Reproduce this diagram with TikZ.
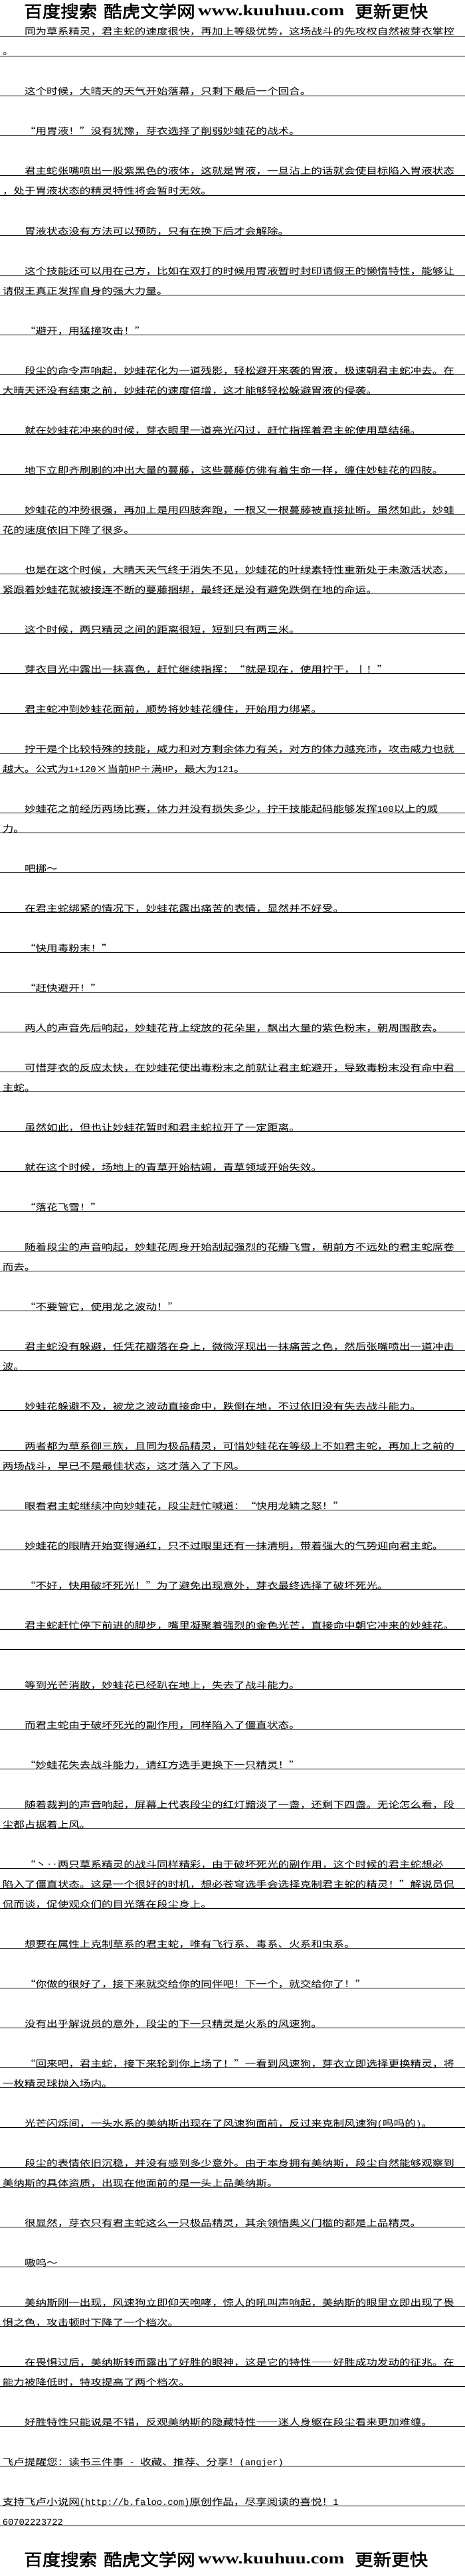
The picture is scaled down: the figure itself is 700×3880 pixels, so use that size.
\documentclass[tikz,border=0pt]{standalone}
\usepackage{fontspec}
\usepackage{tikz}
\newfontfamily\bodyfont[FakeStretch=1.22,RawFeature={+fwid}]{Noto Sans CJK SC}
\newfontfamily\ascfont{Liberation Mono}
\newfontfamily\headfont[FakeStretch=1.1,FakeBold=2]{Noto Sans CJK SC}
\newfontfamily\urlfont[FakeStretch=1.24]{Liberation Serif}
\newcommand{\asc}[1]{{\ascfont\fontsize{13.8}{16}\selectfont #1}}

\begin{document}
\begin{tikzpicture}[x=1pt,y=-1pt]
\tikzstyle{txt}=[anchor=base west, inner sep=0pt, font=\bodyfont\fontsize{13.6}{16}\selectfont]
\tikzstyle{rule}=[line width=1pt, black]
\tikzstyle{headcn}=[anchor=base west, inner sep=0pt, font=\headfont\fontsize{25}{28}\selectfont]
\tikzstyle{headurl}=[anchor=base west, inner sep=0pt, font=\urlfont\bfseries\fontsize{23}{26}\selectfont]
\path[use as bounding box, fill=white] (0,0) rectangle (700,3880);
% banner top
\node [headcn] (hdA) at (36,26.5) {百度搜索};
\node [headcn] (hdB) at (156,26.5) {酷虎文学网};
\node [headurl] (hdC) at (298,23.5) {www.kuuhuu.com};
\node [headcn] (hdD) at (534,26.5) {更新更快};
% ruled lines
\foreach \n in {0,1,3,5,7,8,10,12,13,15,17,18,20,22,24,25,27,28,30,32,34,36,37,39,40,42,44,46,48,50,52,53,55,57,59,61,62,64,66,67,69,71,72,74,76,78,80,81,83,85,87,89,90,92,93,94,96,98,100,102,103,105,107,108,110,112,114,115,117,118,120,122,124,125}
  \draw [rule] (0,{54.3+30*\n}) -- (700,{54.3+30*\n});
% text
\node [txt] (l0) at (36.8,53) {同为草系精灵，君主蛇的速度很快，再加上等级优势，这场战斗的先攻权自然被芽衣掌控};
\node [txt] (l1) at (3.6,83) {。};
\node [txt] (l3) at (36.8,143) {这个时候，大晴天的天气开始落幕，只剩下最后一个回合。};
\node [txt] (l5) at (36.8,203) {“用胃液！”没有犹豫，芽衣选择了削弱妙蛙花的战术。};
\node [txt] (l7) at (36.8,263) {君主蛇张嘴喷出一股紫黑色的液体，这就是胃液，一旦沾上的话就会使目标陷入胃液状态};
\node [txt] (l8) at (3.6,293) {，处于胃液状态的精灵特性将会暂时无效。};
\node [txt] (l10) at (36.8,353) {胃液状态没有方法可以预防，只有在换下后才会解除。};
\node [txt] (l12) at (36.8,413) {这个技能还可以用在己方，比如在双打的时候用胃液暂时封印请假王的懒惰特性，能够让};
\node [txt] (l13) at (3.6,443) {请假王真正发挥自身的强大力量。};
\node [txt] (l15) at (36.8,503) {“避开，用猛撞攻击！”};
\node [txt] (l17) at (36.8,563) {段尘的命令声响起，妙蛙花化为一道残影，轻松避开来袭的胃液，极速朝君主蛇冲去。在};
\node [txt] (l18) at (3.6,593) {大晴天还没有结束之前，妙蛙花的速度倍增，这才能够轻松躲避胃液的侵袭。};
\node [txt] (l20) at (36.8,653) {就在妙蛙花冲来的时候，芽衣眼里一道亮光闪过，赶忙指挥着君主蛇使用草结绳。};
\node [txt] (l22) at (36.8,713) {地下立即齐刷刷的冲出大量的蔓藤，这些蔓藤仿佛有着生命一样，缠住妙蛙花的四肢。};
\node [txt] (l24) at (36.8,773) {妙蛙花的冲势很强，再加上是用四肢奔跑，一根又一根蔓藤被直接扯断。虽然如此，妙蛙};
\node [txt] (l25) at (3.6,803) {花的速度依旧下降了很多。};
\node [txt] (l27) at (36.8,863) {也是在这个时候，大晴天天气终于消失不见，妙蛙花的叶绿素特性重新处于未激活状态，};
\node [txt] (l28) at (3.6,893) {紧跟着妙蛙花就被接连不断的蔓藤捆绑，最终还是没有避免跌倒在地的命运。};
\node [txt] (l30) at (36.8,953) {这个时候，两只精灵之间的距离很短，短到只有两三米。};
\node [txt] (l32) at (36.8,1013) {芽衣目光中露出一抹喜色，赶忙继续指挥：“就是现在，使用拧干，丨！”};
\node [txt] (l34) at (36.8,1073) {君主蛇冲到妙蛙花面前，顺势将妙蛙花缠住，开始用力绑紧。};
\node [txt] (l36) at (36.8,1133) {拧干是个比较特殊的技能，威力和对方剩余体力有关，对方的体力越充沛，攻击威力也就};
\node [txt] (l37) at (3.6,1163) {越大。公式为\asc{1+120}×当前\asc{HP}÷满\asc{HP}，最大为\asc{121}。};
\node [txt] (l39) at (36.8,1223) {妙蛙花之前经历两场比赛，体力并没有损失多少，拧干技能起码能够发挥\asc{100}以上的威};
\node [txt] (l40) at (3.6,1253) {力。};
\node [txt] (l42) at (36.8,1313) {吧挪～};
\node [txt] (l44) at (36.8,1373) {在君主蛇绑紧的情况下，妙蛙花露出痛苦的表情，显然并不好受。};
\node [txt] (l46) at (36.8,1433) {“快用毒粉末！”};
\node [txt] (l48) at (36.8,1493) {“赶快避开！”};
\node [txt] (l50) at (36.8,1553) {两人的声音先后响起，妙蛙花背上绽放的花朵里，飘出大量的紫色粉末，朝周围散去。};
\node [txt] (l52) at (36.8,1613) {可惜芽衣的反应太快，在妙蛙花使出毒粉末之前就让君主蛇避开，导致毒粉末没有命中君};
\node [txt] (l53) at (3.6,1643) {主蛇。};
\node [txt] (l55) at (36.8,1703) {虽然如此，但也让妙蛙花暂时和君主蛇拉开了一定距离。};
\node [txt] (l57) at (36.8,1763) {就在这个时候，场地上的青草开始枯竭，青草领域开始失效。};
\node [txt] (l59) at (36.8,1823) {“落花飞雪！”};
\node [txt] (l61) at (36.8,1883) {随着段尘的声音响起，妙蛙花周身开始刮起强烈的花瓣飞雪，朝前方不远处的君主蛇席卷};
\node [txt] (l62) at (3.6,1913) {而去。};
\node [txt] (l64) at (36.8,1973) {“不要管它，使用龙之波动！”};
\node [txt] (l66) at (36.8,2033) {君主蛇没有躲避，任凭花瓣落在身上，微微浮现出一抹痛苦之色，然后张嘴喷出一道冲击};
\node [txt] (l67) at (3.6,2063) {波。};
\node [txt] (l69) at (36.8,2123) {妙蛙花躲避不及，被龙之波动直接命中，跌倒在地，不过依旧没有失去战斗能力。};
\node [txt] (l71) at (36.8,2183) {两者都为草系御三族，且同为极品精灵，可惜妙蛙花在等级上不如君主蛇，再加上之前的};
\node [txt] (l72) at (3.6,2213) {两场战斗，早已不是最佳状态，这才落入了下风。};
\node [txt] (l74) at (36.8,2273) {眼看君主蛇继续冲向妙蛙花，段尘赶忙喊道：“快用龙鳞之怒！”};
\node [txt] (l76) at (36.8,2333) {妙蛙花的眼睛开始变得通红，只不过眼里还有一抹清明，带着强大的气势迎向君主蛇。};
\node [txt] (l78) at (36.8,2393) {“不好，快用破坏死光！”为了避免出现意外，芽衣最终选择了破坏死光。};
\node [txt] (l80) at (36.8,2453) {君主蛇赶忙停下前进的脚步，嘴里凝聚着强烈的金色光芒，直接命中朝它冲来的妙蛙花。};
\node [txt] (l83) at (36.8,2543) {等到光芒消散，妙蛙花已经趴在地上，失去了战斗能力。};
\node [txt] (l85) at (36.8,2603) {而君主蛇由于破坏死光的副作用，同样陷入了僵直状态。};
\node [txt] (l87) at (36.8,2663) {“妙蛙花失去战斗能力，请红方选手更换下一只精灵！”};
\node [txt] (l89) at (36.8,2723) {随着裁判的声音响起，屏幕上代表段尘的红灯黯淡了一盏，还剩下四盏。无论怎么看，段};
\node [txt] (l90) at (3.6,2753) {尘都占据着上风。};
\node [txt] (l92) at (36.8,2813) {“丶‥两只草系精灵的战斗同样精彩，由于破坏死光的副作用，这个时候的君主蛇想必};
\node [txt] (l93) at (3.6,2843) {陷入了僵直状态。这是一个很好的时机，想必苍穹选手会选择克制君主蛇的精灵！”解说员侃};
\node [txt] (l94) at (3.6,2873) {侃而谈，促使观众们的目光落在段尘身上。};
\node [txt] (l96) at (36.8,2933) {想要在属性上克制草系的君主蛇，唯有飞行系、毒系、火系和虫系。};
\node [txt] (l98) at (36.8,2993) {“你做的很好了，接下来就交给你的同伴吧！下一个，就交给你了！”};
\node [txt] (l100) at (36.8,3053) {没有出乎解说员的意外，段尘的下一只精灵是火系的风速狗。};
\node [txt] (l102) at (36.8,3113) {“回来吧，君主蛇，接下来轮到你上场了！”一看到风速狗，芽衣立即选择更换精灵，将};
\node [txt] (l103) at (3.6,3143) {一枚精灵球抛入场内。};
\node [txt] (l105) at (36.8,3203) {光芒闪烁间，一头水系的美纳斯出现在了风速狗面前，反过来克制风速狗\asc{(}吗吗的\asc{)}。};
\node [txt] (l107) at (36.8,3263) {段尘的表情依旧沉稳，并没有感到多少意外。由于本身拥有美纳斯，段尘自然能够观察到};
\node [txt] (l108) at (3.6,3293) {美纳斯的具体资质，出现在他面前的是一头上品美纳斯。};
\node [txt] (l110) at (36.8,3353) {很显然，芽衣只有君主蛇这么一只极品精灵，其余领悟奥义门槛的都是上品精灵。};
\node [txt] (l112) at (36.8,3413) {嗷呜～};
\node [txt] (l114) at (36.8,3473) {美纳斯刚一出现，风速狗立即仰天咆哮，惊人的吼叫声响起，美纳斯的眼里立即出现了畏};
\node [txt] (l115) at (3.6,3503) {惧之色，攻击顿时下降了一个档次。};
\node [txt] (l117) at (36.8,3563) {在畏惧过后，美纳斯转而露出了好胜的眼神，这是它的特性——好胜成功发动的征兆。在};
\node [txt] (l118) at (3.6,3593) {能力被降低时，特攻提高了两个档次。};
\node [txt] (l120) at (36.8,3653) {好胜特性只能说是不错，反观美纳斯的隐藏特性——迷人身躯在段尘看来更加难缠。};
\node [txt] (l122) at (3.6,3713) {飞卢提醒您：读书三件事\asc{ - }收藏、推荐、分享！\asc{(angjer)}};
\node [txt] (l124) at (3.6,3773) {支持飞卢小说网\asc{(http://b.faloo.com)}原创作品，尽享阅读的喜悦！\asc{1}};
\node [txt] (l125) at (3.6,3803) {\asc{60702223722}};
% banner bottom
\node [headcn] (ftA) at (36,3864.5) {百度搜索};
\node [headcn] (ftB) at (156,3864.5) {酷虎文学网};
\node [headurl] (ftC) at (298,3861.5) {www.kuuhuu.com};
\node [headcn] (ftD) at (534,3864.5) {更新更快};
\end{tikzpicture}
\end{document}
